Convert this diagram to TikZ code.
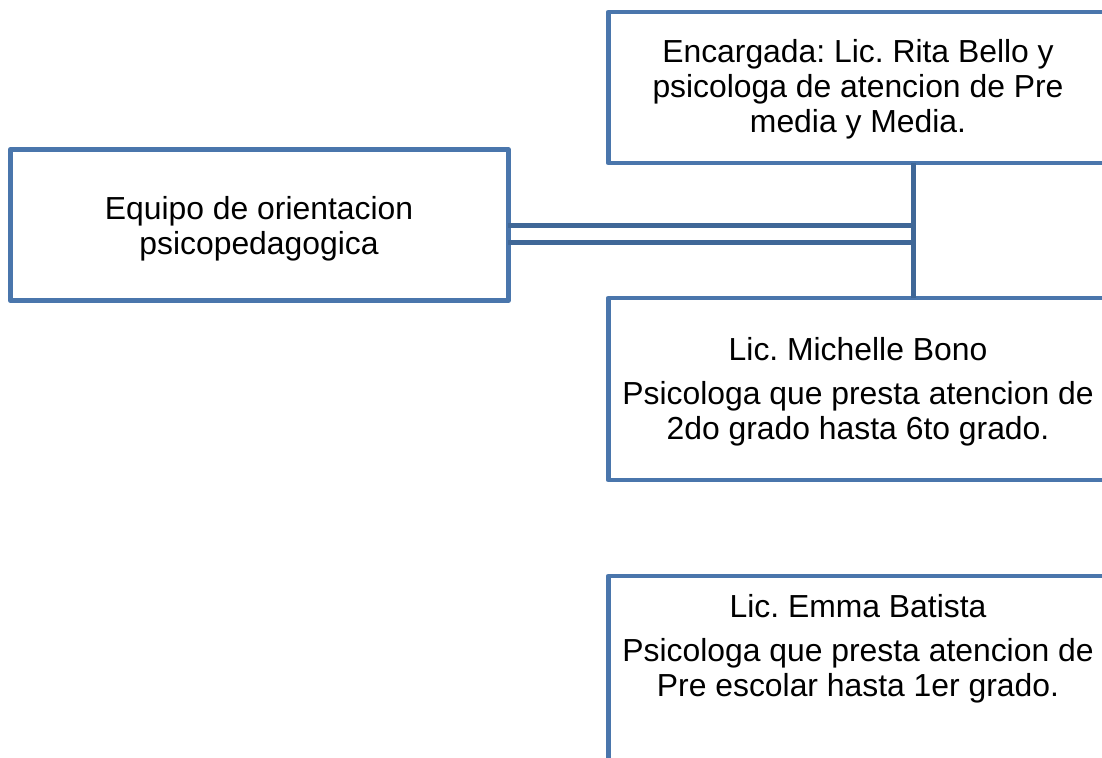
\documentclass[tikz,border=0pt]{standalone}
\usepackage{fontspec}
\setmainfont{Liberation Sans}
\frenchspacing
\definecolor{boxblue}{HTML}{4A76AC}
\definecolor{linkblue}{HTML}{3F6797}
\tikzset{
 orgbox/.style={draw=boxblue,line width=3.7pt,line join=round,rectangle,inner sep=0pt,outer sep=0pt},
 link/.style={draw=linkblue,line width=3.75pt},
 lbl/.style={font=\fontsize{23.9}{26.3}\selectfont,align=center,anchor=center,inner sep=0pt,text=black}
}
\begin{document}
\begin{tikzpicture}[x=0.75pt,y=-0.75pt]
\useasboundingbox (0,0) rectangle (1102,757);
\node[orgbox,minimum width=373.5pt,minimum height=113.5pt] (a) at (259.3,225) {};
\node[orgbox,minimum width=375pt,minimum height=113.25pt] (b) at (858.3,87.5) {};
\node[orgbox,minimum width=375pt,minimum height=136.5pt] (c) at (858.3,389) {};
\node[orgbox,minimum width=375pt,minimum height=165pt] (d) at (858.3,686) {};
\coordinate (j1) at (913,225);
\coordinate (j2) at (913,242);
\draw[link] (a.east |- j1) -- (j1);
\draw[link] (a.east |- j2) -- (j2);
\draw[link] (j1 |- b.south) -- (j1 |- c.north);
\node[lbl] (t0) at (259,229) {Equipo de orientacion\\psicopedagogica};
\node[lbl] (t1) at (858,89.5) {Encargada: Lic. Rita Bello y\\psicologa de atencion de Pre\\media y Media.};
\node[lbl] (t2) at (858,349) {Lic. Michelle Bono};
\node[lbl] (t3) at (858,414) {Psicologa que presta atencion de\\2do grado hasta 6to grado.};
\node[lbl] (t4) at (858,606) {Lic. Emma Batista};
\node[lbl] (t5) at (858,671) {Psicologa que presta atencion de\\Pre escolar hasta 1er grado.};
\end{tikzpicture}
\end{document}
